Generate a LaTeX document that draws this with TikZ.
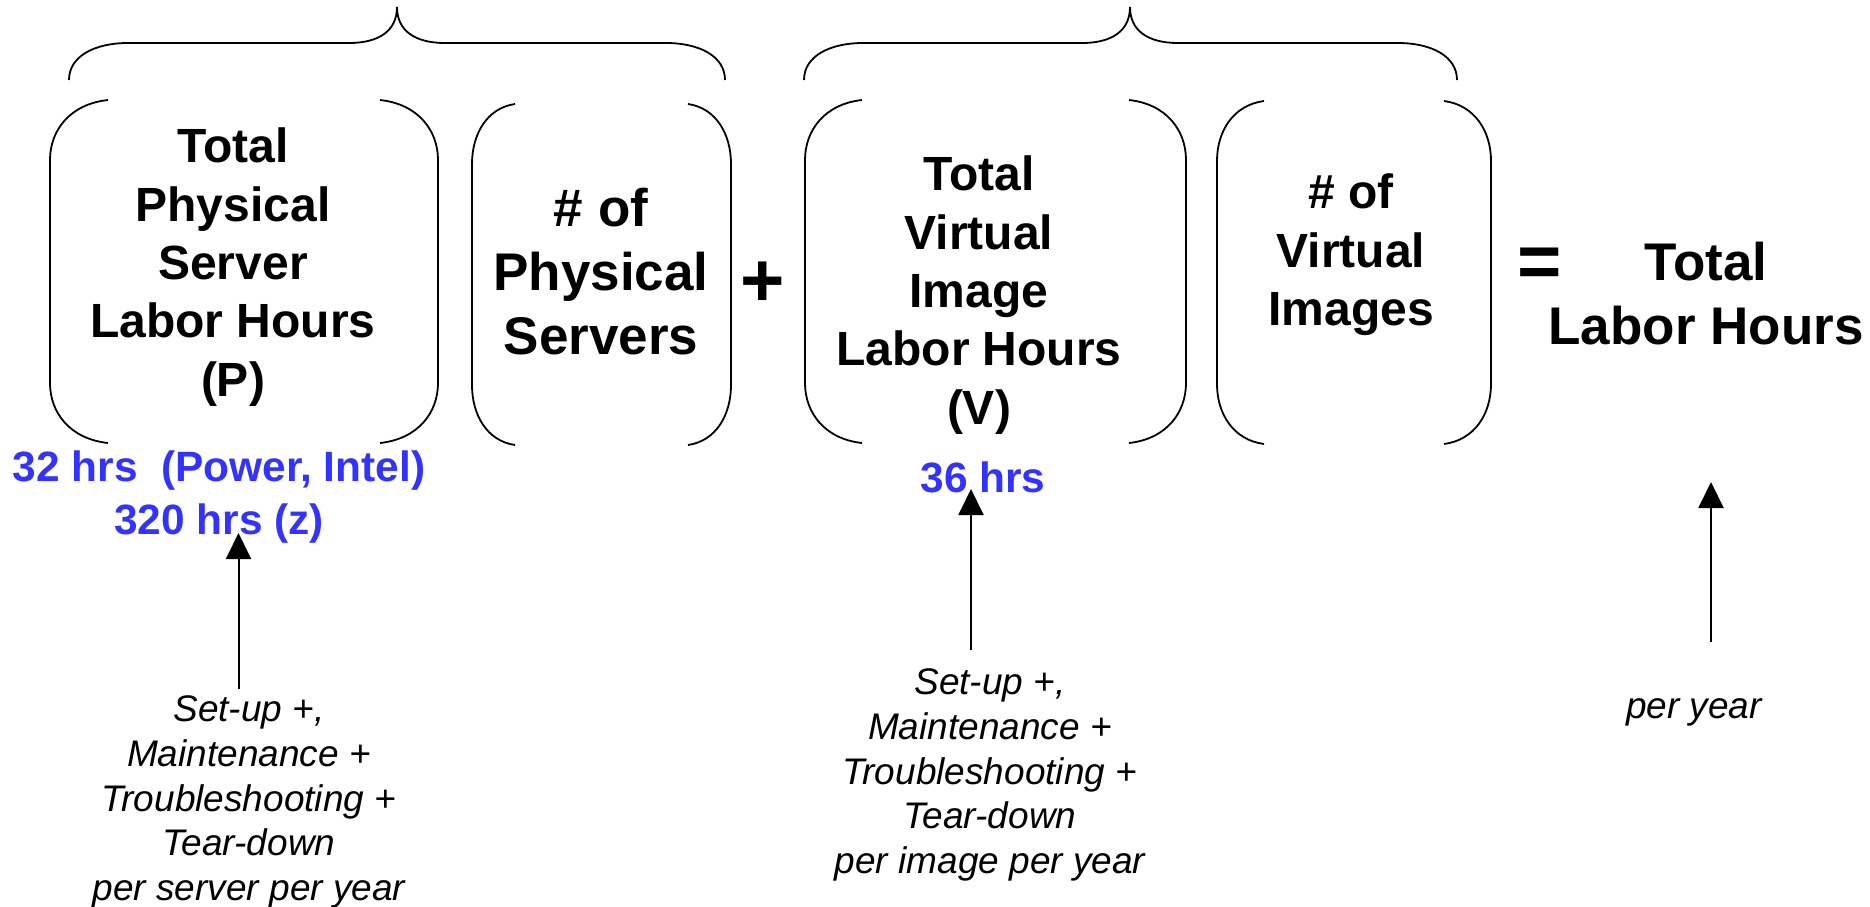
\documentclass[tikz,border=0pt]{standalone}
\usepackage{fontspec}
\setmainfont{Liberation Sans}
\usetikzlibrary{arrows.meta}
\definecolor{hrsblue}{RGB}{51,51,255}

% a pair of round brackets around a term: left x, right x, top y, bottom y, bend depth
\newcommand\termbrackets[5]{%
  \draw[outline] (#1+#5,#3) .. controls (#1+0.35*#5,#3+4) and (#1,#3+30) .. (#1,#3+60)
     -- (#1,#4-60) .. controls (#1,#4-30) and (#1+0.35*#5,#4-4) .. (#1+#5,#4);
  \draw[outline] (#2-#5,#3) .. controls (#2-0.35*#5,#3+4) and (#2,#3+30) .. (#2,#3+60)
     -- (#2,#4-60) .. controls (#2,#4-30) and (#2-0.35*#5,#4-4) .. (#2-#5,#4);}

% a curly brace over a product: left end x, tip x, right end x
\newcommand\topbrace[3]{%
  \draw[outline] (#1,80) .. controls (#1,56) and (#1+26,43) .. (#1+59,43)
     -- (#2-48,43) .. controls (#2-17,43) and (#2,30) .. (#2,7)
     .. controls (#2,30) and (#2+17,43) .. (#2+48,43)
     -- (#3-59,43) .. controls (#3-26,43) and (#3,56) .. (#3,80);}

\tikzset{
  outline/.style={line width=0.9pt, black},
  term/.style={align=center, inner sep=0pt, font=\bfseries\fontsize{24}{29.2}\selectfont},
  bigterm/.style={align=center, inner sep=0pt, font=\bfseries\fontsize{26.5}{32}\selectfont},
  opsign/.style={inner sep=0pt, font=\bfseries\fontsize{38}{40}\selectfont},
  hours/.style={align=center, inner sep=0pt, text=hrsblue, font=\bfseries\fontsize{21.2}{26.2}\selectfont},
  note/.style={align=center, inner sep=0pt, font=\itshape\fontsize{18.5}{22.4}\selectfont},
  pointer/.style={line width=1pt, -{Triangle[width=12.5pt,length=13pt]}}
}

\begin{document}
\begin{tikzpicture}[x=0.5pt,y=-0.5pt]
\useasboundingbox (0,0) rectangle (1870,906);

% braces over the two products
\topbrace{69}{397}{725}
\topbrace{804}{1130}{1457}

% brackets around each factor
\termbrackets{50}{438}{100}{443}{58}
\termbrackets{472}{731}{104}{445}{43}
\termbrackets{805}{1186}{100}{443}{57}
\termbrackets{1217}{1491}{101}{444}{47}

% factors and result
\node[term] (physhours) at (233,267) {Total\\Physical\\Server\\Labor Hours\\(P)};
\node[bigterm] (physcount) at (601,272) {\# of\\Physical\\Servers};
\node[opsign] (plus) at (763,284) {+};
\node[term] (virthours) at (979,295) {Total\\Virtual\\Image\\Labor Hours\\(V)};
\node[term] (virtcount) at (1351,255) {\# of\\Virtual\\Images};
\node[opsign] (equals) at (1540,268) {=};
\node[bigterm] (total) at (1706,294) {Total\\Labor Hours};

% hour figures
\node[hours] (physval) at (219,497) {32 hrs\ \ (Power, Intel)\\320 hrs (z)};
\node[hours] (virtval) at (983,477) {36 hrs};

% explanations
\node[note] (physnote) at (249,802) {Set-up +,\\Maintenance +\\Troubleshooting +\\Tear-down\\per server per year};
\node[note] (virtnote) at (990,775) {Set-up +,\\Maintenance +\\Troubleshooting +\\Tear-down\\per image per year};
\node[note] (totalnote) at (1694,712) {per year};

% arrows from explanations up to the figures
\coordinate (physfrom) at (238.5,689);
\coordinate (physto) at (238.5,533);
\coordinate (virtfrom) at (971,650);
\coordinate (virtto) at (971,489);
\coordinate (totalfrom) at (1711,642);
\coordinate (totalto) at (1711,482);
\draw[pointer] (physfrom) -- (physto);
\draw[pointer] (virtfrom) -- (virtto);
\draw[pointer] (totalfrom) -- (totalto);
\end{tikzpicture}
\end{document}
